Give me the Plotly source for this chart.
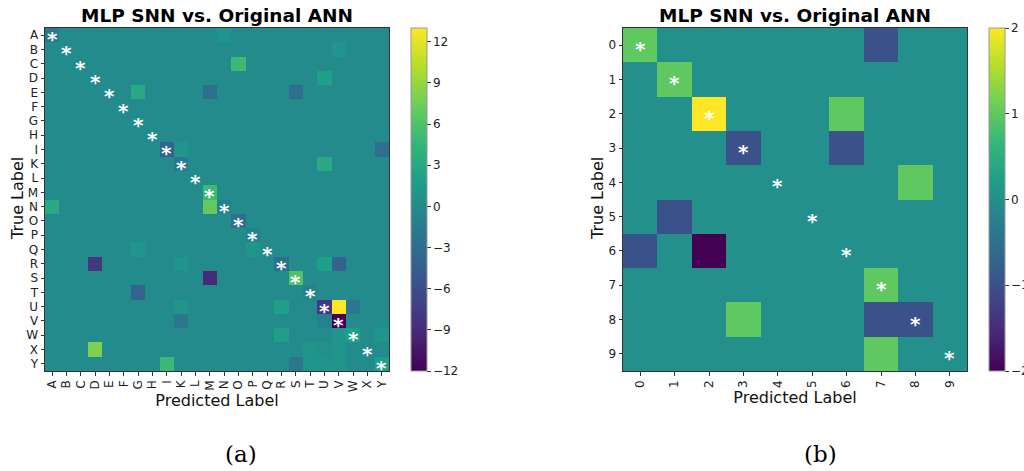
import numpy as np
import plotly.graph_objects as go

# ---------- data ----------
letters = ["A", "B", "C", "D", "E", "F", "G", "H", "I", "K", "L", "M",
           "N", "O", "P", "Q", "R", "S", "T", "U", "V", "W", "X", "Y"]
digits = ["0", "1", "2", "3", "4", "5", "6", "7", "8", "9"]

# (a) non-zero differences: true label, predicted label, value
a_true = ["A", "A", "B", "C", "D", "E", "E", "E", "I", "I", "I", "K", "K",
          "M", "N", "N", "N", "O", "P", "Q", "Q", "R", "R", "R", "R", "R",
          "S", "S", "T", "T", "U", "U", "U", "U", "U", "V", "V", "V",
          "W", "W", "W", "W", "X", "X", "X", "X", "Y", "Y", "Y", "Y", "Y", "Y"]
a_pred = ["A", "N", "V", "O", "U", "G", "M", "S", "I", "K", "Y", "K", "U",
          "M", "A", "M", "N", "O", "P", "G", "P", "D", "K", "R", "U", "V",
          "M", "S", "G", "T", "K", "R", "U", "V", "W", "K", "U", "V",
          "R", "V", "W", "Y", "D", "T", "U", "V", "I", "S", "T", "U", "V", "Y"]
a_val = [-2, 1, 1, 5, 2, 3, -3, -3, -4, 1, -3, -2, 3,
         5, 3, 7, -1, -3, -1, 1, 1, -8, 1, -3, 2, -4,
         -9, 6, -4, -1, 1, 2, -8, 13, -2, -2, -1, -12,
         2, 1, 2, 1, 8, 1, 0.5, 1, 5, -2, 1, 1, 1, 2]

# (b) non-zero differences
b_true = ["0", "0", "1", "2", "2", "3", "3", "4", "5", "6", "6", "7", "8", "8", "8", "9"]
b_pred = ["0", "7", "1", "2", "6", "3", "6", "8", "1", "0", "2", "7", "3", "7", "8", "7"]
b_val = [1, -1, 1, 2, 1, -1, -1, 1, -1, -1, -2, 1, 1, -1, -1, 1]

a_ticks = [-12, -9, -6, -3, 0, 3, 6, 9, 12]
b_ticks = [-2, -1, 0, 1, 2]

title_text = "MLP SNN vs. Original ANN"
x_title = "Predicted Label"
y_title = "True Label"


def build(labels, t, p, v):
    z = np.zeros((len(labels), len(labels)))
    for ti, pi, vi in zip(t, p, v):
        z[labels.index(ti), labels.index(pi)] = vi
    return z


za = build(letters, a_true, a_pred, a_val)
zb = build(digits, b_true, b_pred, b_val)

W, H = 1024, 471
FONT = "DejaVu Sans"


def px(x):
    return x / W


def py(y):
    return 1 - y / H


def cbar(xpos, ticks):
    return dict(x=px(xpos), xanchor="left", y=py(371), yanchor="bottom",
                len=343 / H, lenmode="fraction", thickness=16, thicknessmode="pixels",
                tickvals=ticks, ticktext=[str(t).replace("-", "\u2212") for t in ticks],
                ticks="outside", ticklen=3.5, tickcolor="#333",
                outlinewidth=1, outlinecolor="#999",
                tickfont=dict(family=FONT, size=12, color="#222"), xpad=0, ypad=0)


fig = go.Figure()

fig.add_trace(go.Heatmap(
    z=za, x=letters, y=letters, colorscale="Viridis", zmin=-12, zmax=13,
    xaxis="x", yaxis="y", colorbar=cbar(411, a_ticks),
))
fig.add_trace(go.Heatmap(
    z=zb, x=digits, y=digits, colorscale="Viridis", zmin=-2, zmax=2,
    xaxis="x2", yaxis="y2", colorbar=cbar(989, b_ticks),
))

annotations = []
for lab in letters:
    annotations.append(dict(text="<b>*</b>", x=lab, y=lab, xref="x", yref="y", showarrow=False,
                            font=dict(family=FONT, size=20, color="white"), yshift=-4))
for lab in digits:
    annotations.append(dict(text="<b>*</b>", x=lab, y=lab, xref="x2", yref="y2", showarrow=False,
                            font=dict(family=FONT, size=20, color="white"), yshift=-4))

annotations += [
    dict(text="<b>" + title_text + "</b>", x=px(217), y=py(16), xref="paper", yref="paper",
         showarrow=False, font=dict(family=FONT, size=18.5, color="black"),
         xanchor="center", yanchor="middle"),
    dict(text="<b>" + title_text + "</b>", x=px(795), y=py(16), xref="paper", yref="paper",
         showarrow=False, font=dict(family=FONT, size=18.5, color="black"),
         xanchor="center", yanchor="middle"),
    dict(text=y_title, x=px(17), y=py(199), xref="paper", yref="paper", showarrow=False,
         textangle=-90, font=dict(family=FONT, size=16, color="#111"),
         xanchor="center", yanchor="middle"),
    dict(text=y_title, x=px(597), y=py(199), xref="paper", yref="paper", showarrow=False,
         textangle=-90, font=dict(family=FONT, size=16, color="#111"),
         xanchor="center", yanchor="middle"),
    dict(text="(a)", x=px(241), y=py(454), xref="paper", yref="paper", showarrow=False,
         font=dict(family="DejaVu Serif", size=23, color="black"),
         xanchor="center", yanchor="middle"),
    dict(text="(b)", x=px(820), y=py(454), xref="paper", yref="paper", showarrow=False,
         font=dict(family="DejaVu Serif", size=23, color="black"),
         xanchor="center", yanchor="middle"),
]

axis_common = dict(showline=True, linecolor="#333", linewidth=1, mirror=True,
                   ticks="outside", ticklen=3.5, tickcolor="#333",
                   showgrid=False, zeroline=False, type="category", tickmode="array",
                   tickfont=dict(family=FONT, size=12, color="#222"))

na, nb = len(letters), len(digits)

fig.update_layout(
    width=W, height=H, margin=dict(l=0, r=0, t=0, b=0, autoexpand=False),
    paper_bgcolor="white", plot_bgcolor="white", showlegend=False,
    font=dict(family=FONT, color="#111"),
    xaxis=dict(domain=[px(45), px(389)], anchor="y", tickangle=-90,
               range=[-0.5, na - 0.5], tickvals=letters,
               title=dict(text=x_title, font=dict(family=FONT, size=16), standoff=2),
               **axis_common),
    yaxis=dict(domain=[py(371), py(28)], anchor="x",
               range=[na - 0.5, -0.5], tickvals=letters,
               **axis_common),
    xaxis2=dict(domain=[px(623), px(967)], anchor="y2", tickangle=-90,
                range=[-0.5, nb - 0.5], tickvals=digits,
                title=dict(text=x_title, font=dict(family=FONT, size=16), standoff=2),
                **axis_common),
    yaxis2=dict(domain=[py(371), py(28)], anchor="x2",
                range=[nb - 0.5, -0.5], tickvals=digits,
                **axis_common),
    annotations=annotations,
)

# remove the default page margin so the figure sits at the window's top-left corner
fig.write_html("out.html", config={"displayModeBar": False},
               post_script="document.body.style.margin='0';document.body.style.overflow='hidden';")
